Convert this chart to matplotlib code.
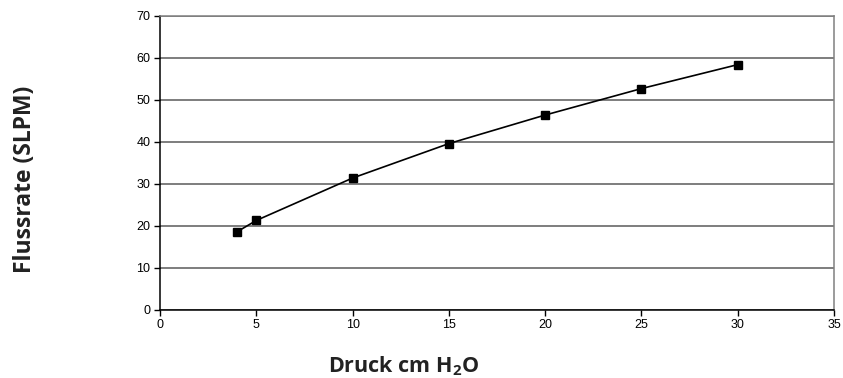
import matplotlib
matplotlib.use('Agg')
import matplotlib.pyplot as plt

# Druck (cm H2O) vs Flussrate (SLPM)
druck = [4, 5, 10, 15, 20, 25, 30]
fluss = [18.5, 21.2, 31.3, 39.5, 46.3, 52.6, 58.3]

xticks = list(range(0, 36, 5))
yticks = list(range(0, 71, 10))

plt.rcParams['mathtext.fontset'] = 'custom'
plt.rcParams['mathtext.bf'] = 'Open Sans:bold'
plt.rcParams['mathtext.rm'] = 'Open Sans:bold'

fig = plt.figure(figsize=(8.43, 3.78), dpi=100)
ax = fig.add_axes([160 / 843, 1 - 309.5 / 378, 674 / 843, 294 / 378])

ax.plot(druck, fluss, color='black', linewidth=1.2, marker='s', markersize=6,
        markerfacecolor='black', markeredgecolor='black', zorder=3)

ax.set_xlim(0, 35)
ax.set_ylim(0, 70)
ax.set_xticks(xticks)
ax.set_yticks(yticks)
ax.set_xticklabels([str(t) for t in xticks], fontfamily='Liberation Sans', fontsize=9)
ax.set_yticklabels([str(t) for t in yticks], fontfamily='Liberation Sans', fontsize=9)
ax.tick_params(axis='both', direction='out', length=4, width=1, color='black', pad=3)

ax.grid(axis='y', color='#5a5a5a', linewidth=1.1)
ax.set_axisbelow(True)
for s in ['top', 'right']:
    ax.spines[s].set_color('#808080')
    ax.spines[s].set_linewidth(1.1)
for s in ['left', 'bottom']:
    ax.spines[s].set_color('black')
    ax.spines[s].set_linewidth(1.1)

fig.text(25 / 843, 1 - 179 / 378, 'Flussrate (SLPM)', rotation=90, ha='center', va='center',
         fontfamily='Open Sans', fontweight='bold', fontsize=16.5, color='#222222')
fig.text(404 / 843, 1 - 372 / 378, r'Druck cm H$_{2}$O', ha='center', va='baseline',
         fontfamily='Open Sans', fontweight='bold', fontsize=15.5, color='#222222')

fig.savefig('out.png', dpi=100)
